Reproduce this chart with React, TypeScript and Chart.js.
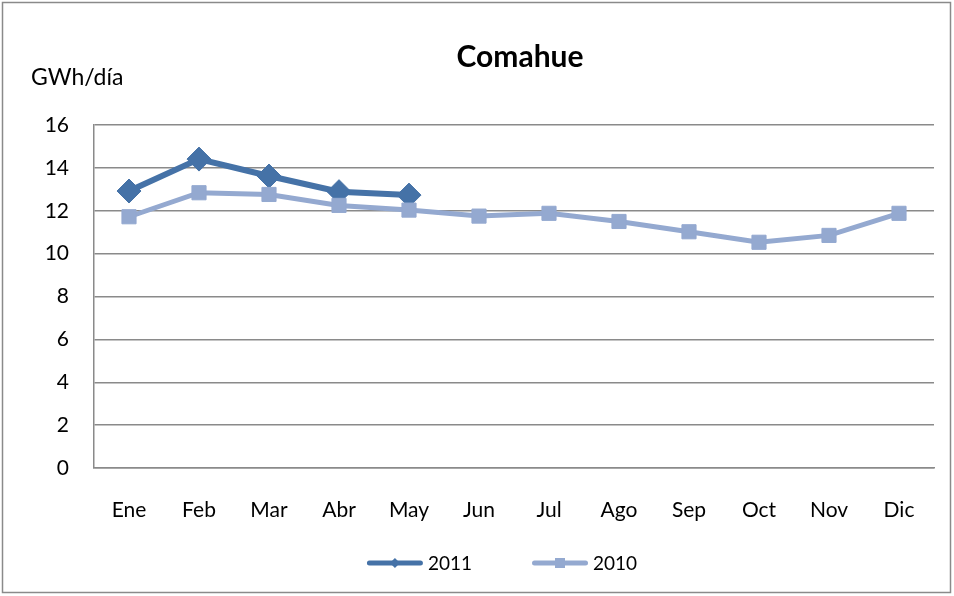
import React, { useEffect, useRef } from 'react';
import { Chart, registerables } from 'chart.js';

Chart.register(...registerables);

const months = ['Ene', 'Feb', 'Mar', 'Abr', 'May', 'Jun', 'Jul', 'Ago', 'Sep', 'Oct', 'Nov', 'Dic'];
const values2011 = [12.92, 14.41, 13.62, 12.89, 12.73];
const values2010 = [11.72, 12.84, 12.76, 12.25, 12.03, 11.75, 11.88, 11.5, 11.02, 10.53, 10.85, 11.88];
const seriesLabels = ['2011', '2010'];
const titleText = 'Comahue';
const unitText = 'GWh/día';
const yMin = 0;
const yMax = 16;
const yStep = 2;

const DARK = '#4572A7';
const LIGHT = '#94A9D0';
const FONT = 'Lato';

const decorPlugin = {
  id: 'decor',
  beforeDraw(chart: any) {
    const { ctx, width, height } = chart;
    ctx.save();
    ctx.fillStyle = '#ffffff';
    ctx.fillRect(0, 0, width, height);
    ctx.strokeStyle = '#8a8a8a';
    ctx.lineWidth = 1.5;
    ctx.strokeRect(2.5, 2.5, width - 6, height - 6);
    ctx.restore();
  },
  afterDraw(chart: any) {
    const { ctx, chartArea } = chart;
    const midX = (chartArea.left + chartArea.right) / 2;
    ctx.save();
    ctx.fillStyle = '#000000';
    ctx.textBaseline = 'alphabetic';
    ctx.font = `bold 30px ${FONT}`;
    ctx.textAlign = 'center';
    ctx.fillText(titleText, midX + 6, 67);
    ctx.font = `23px ${FONT}`;
    ctx.textAlign = 'left';
    ctx.fillText(unitText, 31, 85);

    // legend: line + marker + label for each dataset
    const lineLen = 56;
    const textGap = 5;
    const itemGap = 60;
    const legendY = 563;
    ctx.font = `19px ${FONT}`;
    const datasets = chart.data.datasets;
    const widths = datasets.map((ds: any) => lineLen + textGap + ctx.measureText(ds.label).width);
    const total = widths.reduce((a: number, b: number) => a + b, 0) + itemGap * (datasets.length - 1);
    let x = midX - 12 - total / 2;
    datasets.forEach((ds: any, i: number) => {
      const color = ds.borderColor;
      ctx.strokeStyle = color;
      ctx.fillStyle = color;
      ctx.lineWidth = 5;
      ctx.lineCap = 'round';
      ctx.beginPath();
      ctx.moveTo(x + 2.5, legendY);
      ctx.lineTo(x + lineLen - 2.5, legendY);
      ctx.stroke();
      const cx = x + lineLen / 2;
      if (ds.pointStyle === 'rectRot') {
        ctx.beginPath();
        ctx.moveTo(cx, legendY - 5);
        ctx.lineTo(cx + 5, legendY);
        ctx.lineTo(cx, legendY + 5);
        ctx.lineTo(cx - 5, legendY);
        ctx.closePath();
        ctx.fill();
      } else {
        ctx.fillRect(cx - 5, legendY - 5, 10, 10);
      }
      ctx.fillStyle = '#000000';
      ctx.textAlign = 'left';
      ctx.textBaseline = 'alphabetic';
      ctx.fillText(ds.label, x + lineLen + textGap, legendY + 7);
      x += widths[i] + itemGap;
    });
    ctx.restore();
  },
};

export default function App() {
  const ref = useRef<HTMLCanvasElement | null>(null);
  useEffect(() => {
    document.body.style.margin = '0';
    const canvas = ref.current!;
    const chart = new Chart(canvas, {
      type: 'line',
      data: {
        labels: months,
        datasets: [
          {
            label: seriesLabels[0],
            data: values2011,
            borderColor: DARK,
            backgroundColor: DARK,
            borderWidth: 6,
            pointStyle: 'rectRot',
            pointRadius: 12,
            pointBorderWidth: 1,
            pointBackgroundColor: DARK,
            pointBorderColor: DARK,
            tension: 0,
            order: 1,
          },
          {
            label: seriesLabels[1],
            data: values2010,
            borderColor: LIGHT,
            backgroundColor: LIGHT,
            borderWidth: 5,
            pointStyle: 'rect',
            pointRadius: 10,
            pointBorderWidth: 1,
            pointBackgroundColor: LIGHT,
            pointBorderColor: LIGHT,
            tension: 0,
            order: 0,
          },
        ],
      },
      options: {
        responsive: false,
        animation: false,
        devicePixelRatio: 1,
        layout: { padding: { left: 30, right: 20, top: 125, bottom: 0 } },
        scales: {
          x: {
            offset: true,
            grid: { display: false, drawTicks: false },
            border: { display: true, color: '#8a8a8a', width: 1.5 },
            ticks: { color: '#000', font: { family: FONT, size: 21 }, padding: 30, maxRotation: 0, autoSkip: false },
            afterFit: (s: any) => { s.height = 128; },
          },
          y: {
            min: yMin,
            max: yMax,
            ticks: { stepSize: yStep, color: '#000', font: { family: FONT, size: 21 }, padding: 25 },
            grid: { color: '#8a8a8a', lineWidth: 1.5, drawTicks: false },
            border: { display: true, color: '#8a8a8a', width: 1.5 },
            afterFit: (s: any) => { s.width = 64; },
          },
        },
        plugins: {
          title: { display: false },
          tooltip: { enabled: false },
          legend: { display: false },
        },
      },
      plugins: [decorPlugin],
    });
    return () => chart.destroy();
  }, []);
  return <canvas ref={ref} width={954} height={596} style={{ display: 'block', width: 954, height: 596 }} />;
}
